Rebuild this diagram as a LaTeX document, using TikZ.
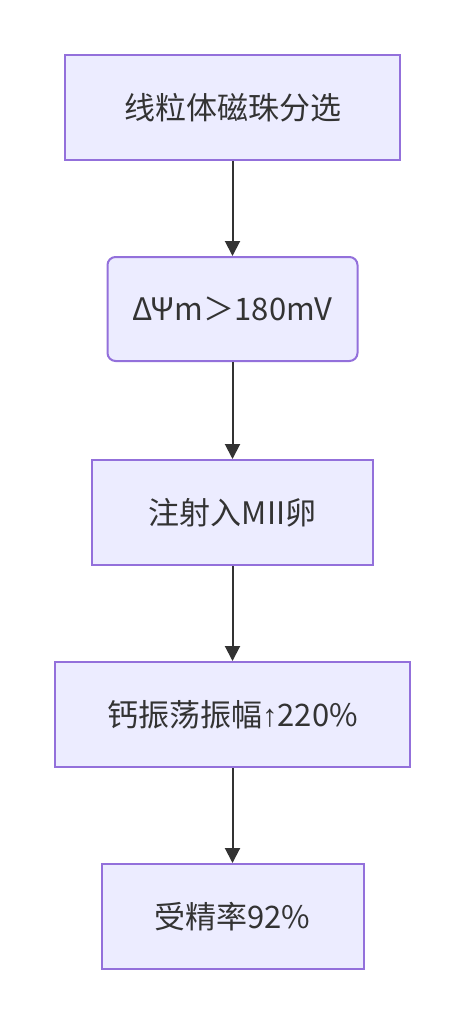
\documentclass[tikz,border=0pt]{standalone}
\usepackage{fontspec}
\setmainfont{Noto Sans CJK SC}
\newfontfamily\arrfont{Liberation Sans}
\usetikzlibrary{arrows.meta}
\begin{document}
\begin{tikzpicture}[x=1pt,y=-1pt,
  box/.style={draw=boxline,fill=boxfill,line width=2pt,inner sep=0pt,font=\fontsize{31}{35}\selectfont,text=txt},
  conn/.style={draw=arr,line width=2pt,-{Triangle[length=15pt,width=15pt]}}]
\definecolor{boxline}{HTML}{9370DB}
\definecolor{boxfill}{HTML}{ECECFF}
\definecolor{arr}{HTML}{333333}
\definecolor{txt}{HTML}{333333}
\useasboundingbox (0,0) rectangle (464,1024);
\node[box,minimum width=335pt,minimum height=105pt] (a) at (232.5,107.5) {线粒体磁珠分选};
\node[box,rounded corners=8pt,minimum width=250pt,minimum height=104pt] (b) at (232.5,309) {ΔΨm＞180mV};
\node[box,minimum width=281pt,minimum height=105pt] (c) at (232.5,512.5) {注射入MII卵};
\node[box,minimum width=355pt,minimum height=105pt] (d) at (232.5,714.5) {钙振荡振幅{\arrfont ↑}220\%};
\node[box,minimum width=262pt,minimum height=105pt] (e) at (232.5,916.5) {受精率92\%};
\draw[conn] (a) -- (b);
\draw[conn] (b) -- (c);
\draw[conn] (c) -- (d);
\draw[conn] (d) -- (e);
\end{tikzpicture}
\end{document}
